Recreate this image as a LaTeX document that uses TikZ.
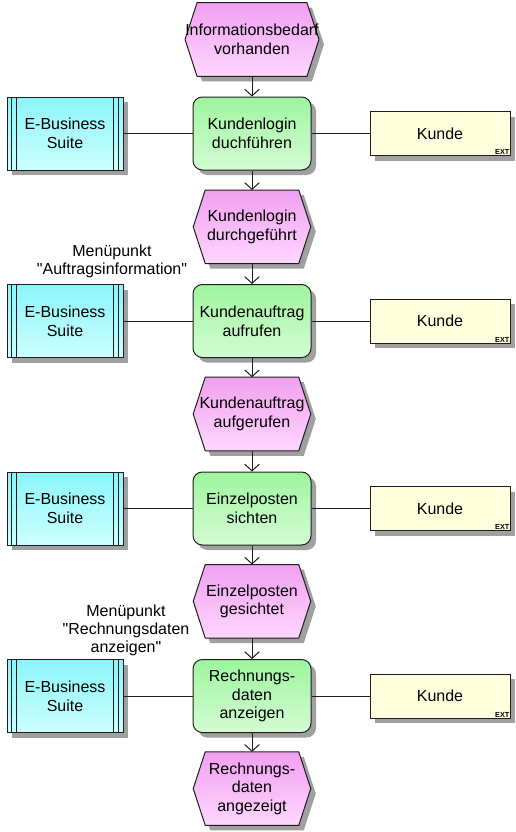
\documentclass[tikz,border=0pt]{standalone}
\usepackage{fontspec}
\setmainfont{Liberation Sans}[Ligatures=TeXOff]
\usetikzlibrary{arrows.meta,shadows}

\definecolor{evtop}{RGB}{240,160,240}
\definecolor{evbot}{RGB}{255,214,255}
\definecolor{fntop}{RGB}{158,245,158}
\definecolor{fnbot}{RGB}{212,252,212}
\definecolor{sytop}{RGB}{138,245,250}
\definecolor{sybot}{RGB}{205,255,255}
\definecolor{extfill}{RGB}{255,255,222}
\definecolor{shadowc}{RGB}{160,160,160}
\definecolor{edge}{RGB}{30,30,30}

\pgfdeclarelayer{back}
\pgfsetlayers{back,main}

% straight double quote
\newcommand\dq{\symbol{34}}

% hexagonal event outline around a rectangular node, shifted by (#2,#3)
\newcommand\hexat[3]{([xshift=#2,yshift=#3]#1.west)
  -- ([xshift=9pt+#2,yshift=#3]#1.north west)
  -- ([xshift=-9pt+#2,yshift=#3]#1.north east)
  -- ([xshift=#2,yshift=#3]#1.east)
  -- ([xshift=-9pt+#2,yshift=#3]#1.south east)
  -- ([xshift=9pt+#2,yshift=#3]#1.south west) -- cycle}

\tikzset{
  txt/.style={font=\fontsize{12}{14}\selectfont, align=center, inner sep=0pt},
  boxshadow/.style={drop shadow={shadow xshift=3.75pt, shadow yshift=-3.75pt,
      fill=shadowc, opacity=1}},
  event/.style={txt, minimum width=87.75pt, minimum height=54.75pt},
  func/.style={txt, draw=edge, line width=0.75pt, rounded corners=7pt,
      top color=fntop, bottom color=fnbot,
      minimum width=88.5pt, minimum height=54.75pt, boxshadow},
  sysbox/.style={txt, draw=edge, line width=0.75pt,
      top color=sytop, bottom color=sybot,
      minimum width=87pt, minimum height=54.75pt, boxshadow},
  extbox/.style={txt, draw=edge, line width=0.75pt, fill=extfill,
      minimum width=105pt, minimum height=33pt, boxshadow},
  exttag/.style={font=\fontsize{5.5}{6}\selectfont\bfseries, inner sep=0.6pt,
      anchor=south east},
  note/.style={font=\fontsize{12}{13.5}\selectfont, align=center, inner sep=0pt},
  flow/.style={draw=edge, line width=0.75pt,
      -{Straight Barb[length=5pt,width=11pt,line width=0.75pt]}},
  link/.style={draw=edge, line width=0.75pt},
  stripe/.style={draw=edge, line width=0.75pt}
}

\begin{document}
\begin{tikzpicture}[x=0.75pt,y=-0.75pt]
\useasboundingbox (0,0) rectangle (516,832);

% events
\node[event] (e1) at (252,39.5)  {Informationsbedarf\\vorhanden};
\node[event] (e2) at (252,226.8) {Kundenlogin\\durchgeführt};
\node[event] (e3) at (252,414)   {Kundenauftrag\\aufgerufen};
\node[event] (e4) at (252,601.3) {Einzelposten\\gesichtet};
\node[event] (e5) at (252,788.6) {Rechnungs-\\daten\\angezeigt};

% functions
\node[func] (f1) at (252,133.5) {Kundenlogin\\duchführen};
\node[func] (f2) at (252,321)   {Kundenauftrag\\aufrufen};
\node[func] (f3) at (252,508.5) {Einzelposten\\sichten};
\node[func] (f4) at (252,696)   {Rechnungs-\\daten\\anzeigen};

% application systems
\node[sysbox] (s1) at (65,133.5) {E-Business\\Suite};
\node[sysbox] (s2) at (65,321)   {E-Business\\Suite};
\node[sysbox] (s3) at (65,508.5) {E-Business\\Suite};
\node[sysbox] (s4) at (65,696)   {E-Business\\Suite};

% external organisational units
\node[extbox] (k1) at (440,133.5) {Kunde};
\node[extbox] (k2) at (440,321)   {Kunde};
\node[extbox] (k3) at (440,508.5) {Kunde};
\node[extbox] (k4) at (440,696)   {Kunde};
\foreach \k in {k1,k2,k3,k4}
  \node[exttag] (\k-ext) at (\k.south east) {EXT};

% double side bars of the system boxes
\foreach \s in {s1,s2,s3,s4} {
  \draw[stripe] ([xshift=3.75pt]\s.north west) -- ([xshift=3.75pt]\s.south west);
  \draw[stripe] ([xshift=7.5pt]\s.north west) -- ([xshift=7.5pt]\s.south west);
  \draw[stripe] ([xshift=-3.75pt]\s.north east) -- ([xshift=-3.75pt]\s.south east);
  \draw[stripe] ([xshift=-7.5pt]\s.north east) -- ([xshift=-7.5pt]\s.south east);
}

% hexagon bodies of the events
\begin{pgfonlayer}{back}
\foreach \e in {e1,e2,e3,e4,e5} {
  \fill[shadowc] \hexat{\e}{3.75pt}{-3.75pt};
  \path[top color=evtop, bottom color=evbot, draw=edge, line width=0.75pt]
    \hexat{\e}{0pt}{0pt};
}
\end{pgfonlayer}

% annotations
\node[note] (n1) at (112,261) {Menüpunkt\\\dq Auftragsinformation\dq};
\node[note] (n2) at (126,630) {Menüpunkt\\\dq Rechnungsdaten\\anzeigen\dq};

% control flow
\draw[flow] (e1) -- (f1);
\draw[flow] (f1) -- (e2);
\draw[flow] (e2) -- (f2);
\draw[flow] (f2) -- (e3);
\draw[flow] (e3) -- (f3);
\draw[flow] (f3) -- (e4);
\draw[flow] (e4) -- (f4);
\draw[flow] (f4) -- (e5);

% assignments
\foreach \i in {1,2,3,4} {
  \draw[link] (s\i) -- (f\i);
  \draw[link] (f\i) -- (k\i);
}
\end{tikzpicture}
\end{document}
